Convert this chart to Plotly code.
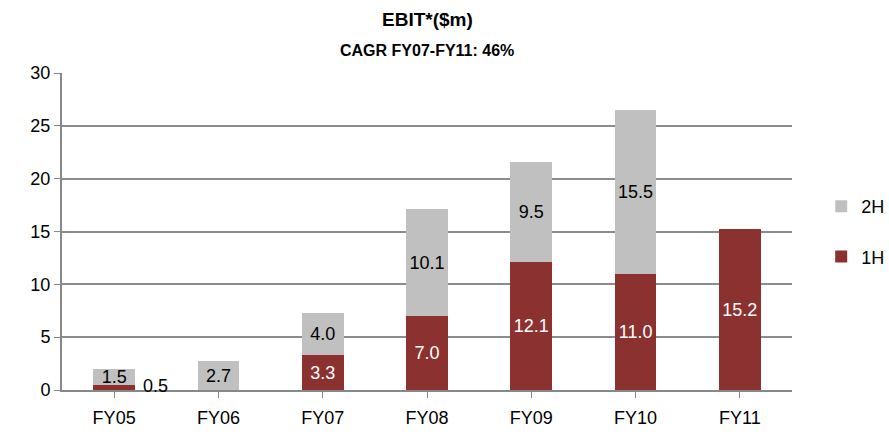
import plotly.graph_objects as go

categories = ["FY05", "FY06", "FY07", "FY08", "FY09", "FY10", "FY11"]
h1 = [0.5, 0, 3.3, 7.0, 12.1, 11.0, 15.2]
h2 = [1.5, 2.7, 4.0, 10.1, 9.5, 15.5, 0]
y_ticks = [0, 5, 10, 15, 20, 25, 30]

RED = "#8B3230"
GREY = "#C0C0C0"
FONT = "Liberation Sans, Arial, sans-serif"

def lab(vals, skip_small=False):
    out = []
    for v in vals:
        if v == 0 or (skip_small and v < 1):
            out.append("")
        else:
            out.append(f"{v:.1f}")
    return out

fig = go.Figure()
fig.add_trace(go.Bar(
    x=categories, y=h1, name="1H", legendgroup="g1", legendrank=2,
    marker=dict(color=RED, line=dict(width=0)),
    text=lab(h1, skip_small=True), textposition="inside", insidetextanchor="middle",
    constraintext="none", textfont=dict(color="white", size=18, family=FONT),
))
fig.add_trace(go.Bar(
    x=categories, y=h2, name="2H", legendgroup="g2", legendrank=1,
    marker=dict(color=GREY, line=dict(width=0)),
    text=lab(h2), textposition="inside", insidetextanchor="middle",
    constraintext="none", textfont=dict(color="black", size=18, family=FONT),
))

# small 1H label for FY05 shown outside the bar
fig.add_annotation(x=categories[0], y=h1[0], text=f"{h1[0]:.1f}", showarrow=False,
                   xshift=41, yshift=-1, font=dict(size=18, color="black", family=FONT))

# titles
fig.add_annotation(xref="paper", yref="paper", x=0.5, y=1.0, yshift=54, xanchor="center", yanchor="middle",
                   text="<b>EBIT*($m)</b>", showarrow=False, font=dict(size=19, family=FONT, color="black"))
fig.add_annotation(xref="paper", yref="paper", x=0.5, y=1.0, yshift=23, xanchor="center", yanchor="middle",
                   text="<b>CAGR FY07-FY11: 46%</b>", showarrow=False, font=dict(size=16, family=FONT, color="black"))

fig.update_layout(
    barmode="stack", bargap=0.6,
    width=889, height=434,
    margin=dict(l=62, r=97, t=73, b=44, autoexpand=False),
    paper_bgcolor="white", plot_bgcolor="white",
    font=dict(family=FONT, size=18, color="black"),
    legend=dict(x=1.04, y=0.5, xanchor="left", yanchor="middle", traceorder="grouped",
                font=dict(size=18, family=FONT), itemwidth=30, tracegroupgap=24),
    uniformtext=dict(mode=False),
    showlegend=True,
)
fig.update_xaxes(showline=True, linecolor="#888888", linewidth=2, ticks="outside",
                 tickcolor="#888888", ticklen=6, tickfont=dict(size=18), ticklabelstandoff=4)
fig.update_yaxes(range=[0, 30], tickvals=y_ticks, showgrid=True, gridcolor="#8c8c8c", gridwidth=1.5,
                 showline=True, linecolor="#888888", linewidth=2, ticks="outside",
                 tickcolor="#888888", ticklen=6, tickfont=dict(size=18), zeroline=False)
fig.write_html("out.html", config={"displayModeBar": False},
               post_script="document.body.style.margin='0';document.body.style.overflow='hidden';")
